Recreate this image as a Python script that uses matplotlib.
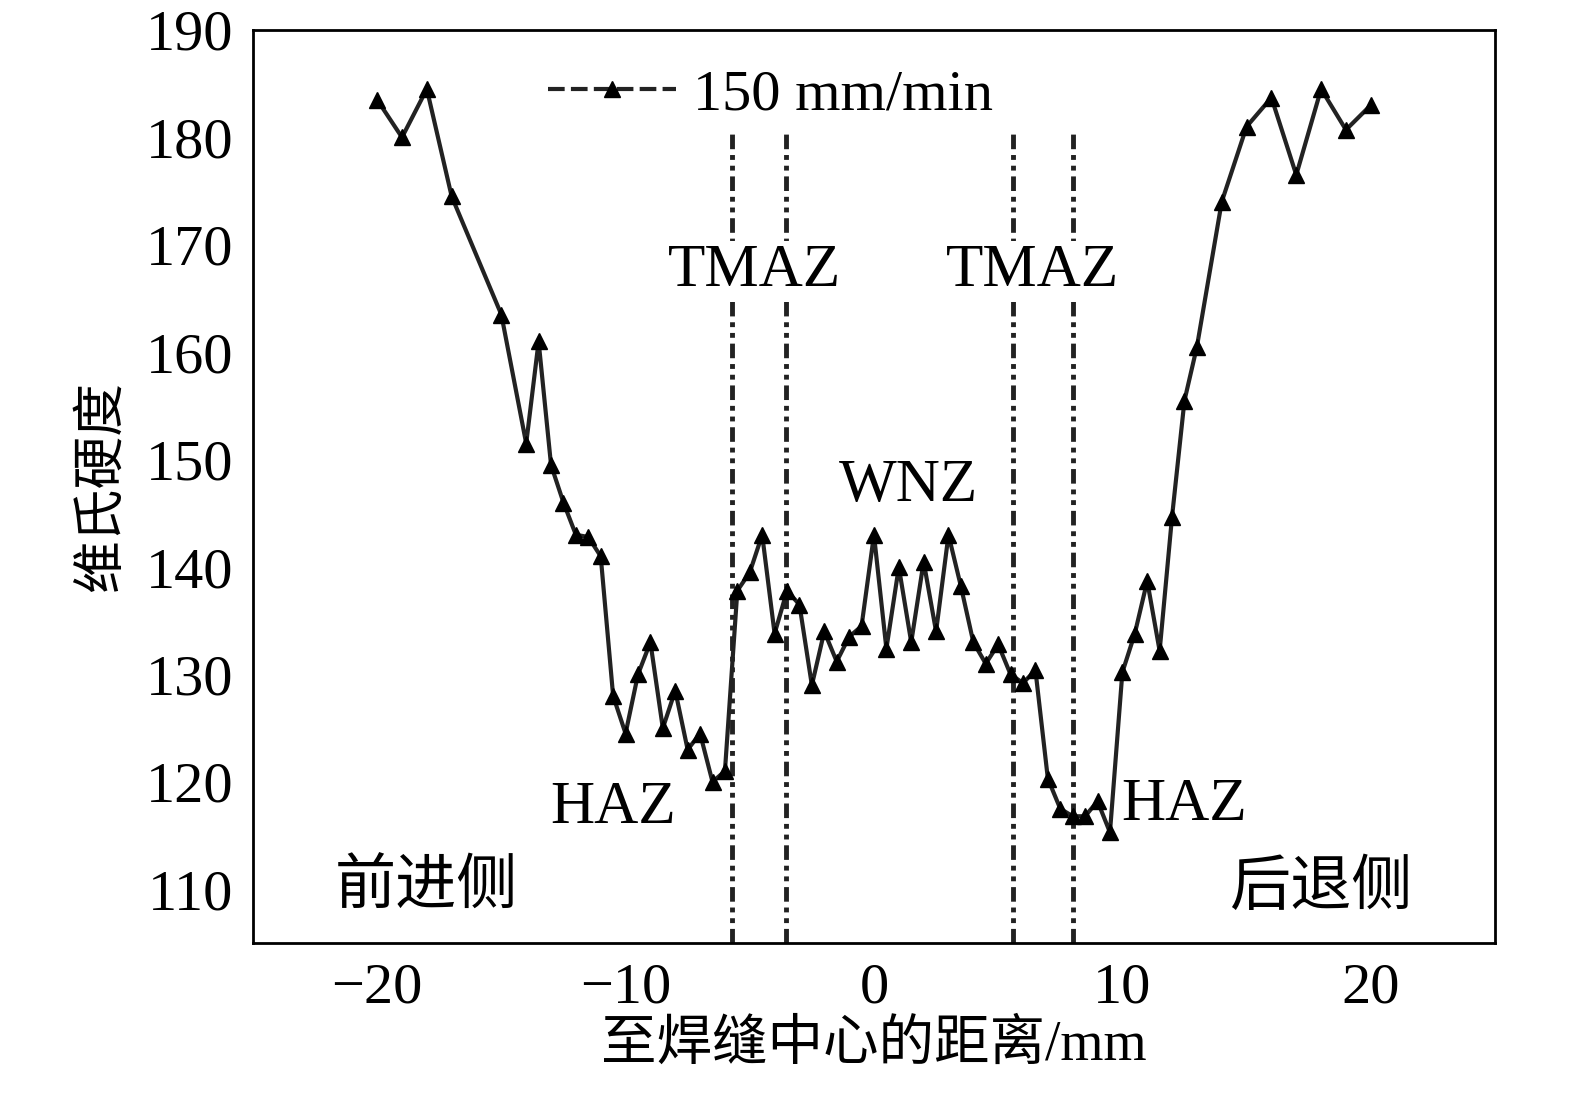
import matplotlib
matplotlib.use('Agg')
import matplotlib.pyplot as plt
from matplotlib.lines import Line2D

plt.rcParams['font.family'] = ['Liberation Serif', 'Noto Sans CJK SC']

# distance to weld center (mm) and Vickers hardness
dist = [-20, -19, -18, -17, -15, -14, -13.5, -13, -12.5, -12, -11.5, -11, -10.5, -10,
        -9.5, -9, -8.5, -8, -7.5, -7, -6.5, -6, -5.5, -5, -4.5, -4, -3.5, -3, -2.5,
        -2, -1.5, -1, -0.5, 0, 0.5, 1, 1.5, 2, 2.5, 3, 3.5, 4, 4.5, 5, 5.5, 6, 6.5,
        7, 7.5, 8, 8.5, 9, 9.5, 10, 10.5, 11, 11.5, 12, 12.5, 13, 14, 15, 16, 17,
        18, 19, 20]
hv = [183.5, 180, 184.5, 174.5, 163.5, 151.5, 161, 149.5, 146, 143, 142.8, 141, 128,
      124.5, 130, 133, 125, 128.5, 123, 124.5, 120, 121, 137.8, 139.5, 143, 133.8,
      137.8, 136.5, 129, 134, 131.2, 133.5, 134.5, 143, 132.4, 140, 133, 140.5, 134,
      143, 138.2, 133, 131, 132.8, 130, 129.2, 130.4, 120.3, 117.5, 116.8, 116.8,
      118.2, 115.3, 130.2, 133.8, 138.7, 132.2, 144.7, 155.5, 160.5, 174, 181, 183.7,
      176.5, 184.5, 180.7, 183]
zone_bounds = [-5.73, -3.55, 5.6, 8.02]

fig = plt.figure(figsize=(15.75, 11.01), dpi=100)
ax = fig.add_axes([0.1606, 0.1435, 0.7886, 0.8293])

ax.plot(dist, hv, color='#222222', lw=3, marker='^', ms=12, mfc='black', mec='black', zorder=3)
ax.vlines(zone_bounds, 105, 180.5, color='#222222', lw=3.5,
          linestyles=[(0, (3, 1.2, 1, 1.2, 1, 1.2))], zorder=1)

ax.set_xlim(-25, 25)
ax.set_ylim(105, 190)
ax.set_xticks([-20, -10, 0, 10, 20])
ax.set_xticklabels(['\u221220', '\u221210', '0', '10', '20'])
ax.set_yticks(range(110, 191, 10))
ax.tick_params(labelsize=42, direction='in', length=0, width=2, pad=14)
for s in ax.spines.values():
    s.set_linewidth(2)

ax.set_xlabel('至焊缝中心的距离/mm', fontsize=40, labelpad=4)
ax.set_ylabel('维氏硬度', fontsize=38, labelpad=14)

txt = dict(fontsize=44, ha='center', va='center')
wb = dict(facecolor='white', edgecolor='none', pad=2)
ax.text(-4.8, 167.5, 'TMAZ', bbox=wb, zorder=2, **txt)
ax.text(6.4, 167.5, 'TMAZ', bbox=wb, zorder=2, **txt)
ax.text(1.4, 147.5, 'WNZ', **txt)
ax.text(-10.5, 117.5, 'HAZ', **txt)
ax.text(12.5, 117.8, 'HAZ', **txt)
ax.text(-18, 110, '前进侧', **txt)
ax.text(18, 110, '后退侧', **txt)

handle = Line2D([], [], color='#222222', lw=3, ls=(0, (4, 1.5)), marker='^', ms=12,
                mfc='black', mec='black')
ax.legend([handle], ['150 mm/min'], loc='upper left', bbox_to_anchor=(0.195, 1.015),
          frameon=False, fontsize=42, handlelength=2.2, handletextpad=0.3)

fig.savefig('out.png', dpi=100)
